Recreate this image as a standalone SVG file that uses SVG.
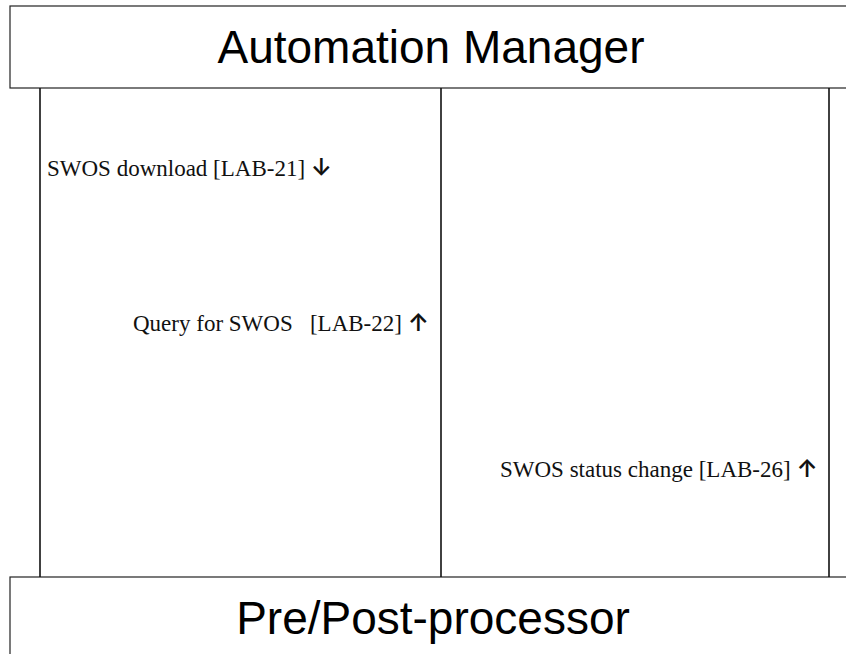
<svg xmlns="http://www.w3.org/2000/svg" width="846" height="654" viewBox="0 0 846 654">
<style>
.box{fill:#fff;stroke:#222;stroke-width:1.2}
.life{stroke:#111;stroke-width:1.6;fill:none}
.title{font-family:"Liberation Sans",Arial,sans-serif;font-size:46px;fill:#000;text-anchor:middle}
.lbl{font-family:"Liberation Serif","Times New Roman",serif;font-size:23px;fill:#111;white-space:pre}
.arr{font-family:Inter,sans-serif;font-size:24px;font-weight:600}
</style>
<rect width="846" height="654" fill="#fff"/>
<g id="automation-manager">
<rect class="box" x="10" y="6" width="850" height="82"/>
<text class="title" x="431" y="63">Automation Manager</text>
</g>
<g id="pre-post-processor">
<rect class="box" x="10" y="577" width="850" height="100"/>
<text class="title" x="433" y="634">Pre/Post-processor</text>
</g>
<g id="connectors">
<line class="life" x1="40" y1="88" x2="40" y2="577"/>
<line class="life" x1="441" y1="88" x2="441" y2="577"/>
<line class="life" x1="829" y1="88" x2="829" y2="577"/>
</g>
<g id="labels">
<text class="lbl" x="47" y="176" xml:space="preserve">SWOS download [LAB-21] <tspan class="arr">↓</tspan></text>
<text class="lbl" x="133" y="331" xml:space="preserve">Query for SWOS   [LAB-22] <tspan class="arr">↑</tspan></text>
<text class="lbl" x="500" y="477" xml:space="preserve">SWOS status change [LAB-26] <tspan class="arr">↑</tspan></text>
</g>
</svg>
